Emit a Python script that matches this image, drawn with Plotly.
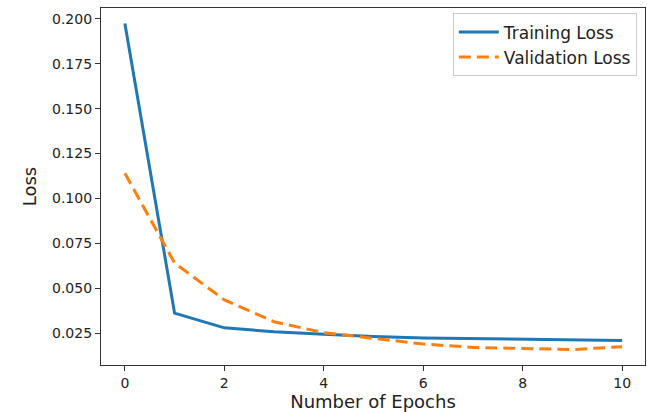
import plotly.graph_objects as go

epochs = list(range(11))
training_loss = [0.1975, 0.0361, 0.0279, 0.0257, 0.0244, 0.0231, 0.0223, 0.0220, 0.0217, 0.0210, 0.0208]
validation_loss = [0.1140, 0.0640, 0.0435, 0.0313, 0.0252, 0.0220, 0.0189, 0.0170, 0.0163, 0.0158, 0.0174]
x_ticks = [0, 2, 4, 6, 8, 10]
y_ticks = [0.025, 0.050, 0.075, 0.100, 0.125, 0.150, 0.175, 0.200]
y_tick_labels = ["0.025", "0.050", "0.075", "0.100", "0.125", "0.150", "0.175", "0.200"]

fig = go.Figure()
fig.add_trace(go.Scatter(x=epochs, y=training_loss, mode="lines", name="Training Loss",
                         line=dict(color="#1f77b4", width=3)))
fig.add_trace(go.Scatter(x=epochs, y=validation_loss, mode="lines", name="Validation Loss",
                         line=dict(color="#ff7f0e", width=3, dash="12px,6px")))

axis_common = dict(showline=True, linecolor="#333", linewidth=1.2, mirror=True,
                   ticks="outside", ticklen=5, tickcolor="#333", showgrid=False, zeroline=False,
                   automargin=False,
                   tickfont=dict(family="DejaVu Sans", size=14, color="#222"))

fig.update_layout(
    width=647, height=412,
    margin=dict(l=101, r=2, t=8, b=47),
    paper_bgcolor="white", plot_bgcolor="white",
    font=dict(family="DejaVu Sans", color="#222"),
    xaxis=dict(range=[-0.48, 10.46], tickvals=x_ticks,
               title=dict(text="Number of Epochs", font=dict(size=18), standoff=2), **axis_common),
    yaxis=dict(range=[0.0072, 0.2061], tickvals=y_ticks, ticktext=y_tick_labels,
               title=dict(text="Loss", font=dict(size=18), standoff=10), **axis_common),
    legend=dict(x=0.985, y=0.985, xanchor="right", yanchor="top",
                bgcolor="rgba(255,255,255,0.8)", bordercolor="#ccc", borderwidth=1,
                font=dict(size=17, family="DejaVu Sans", color="#222"),
                itemwidth=40, tracegroupgap=0),
    showlegend=True,
)

fig.write_html("out.html", config={"displayModeBar": False},
               post_script="document.body.style.margin='0';document.body.style.overflow='hidden';")
